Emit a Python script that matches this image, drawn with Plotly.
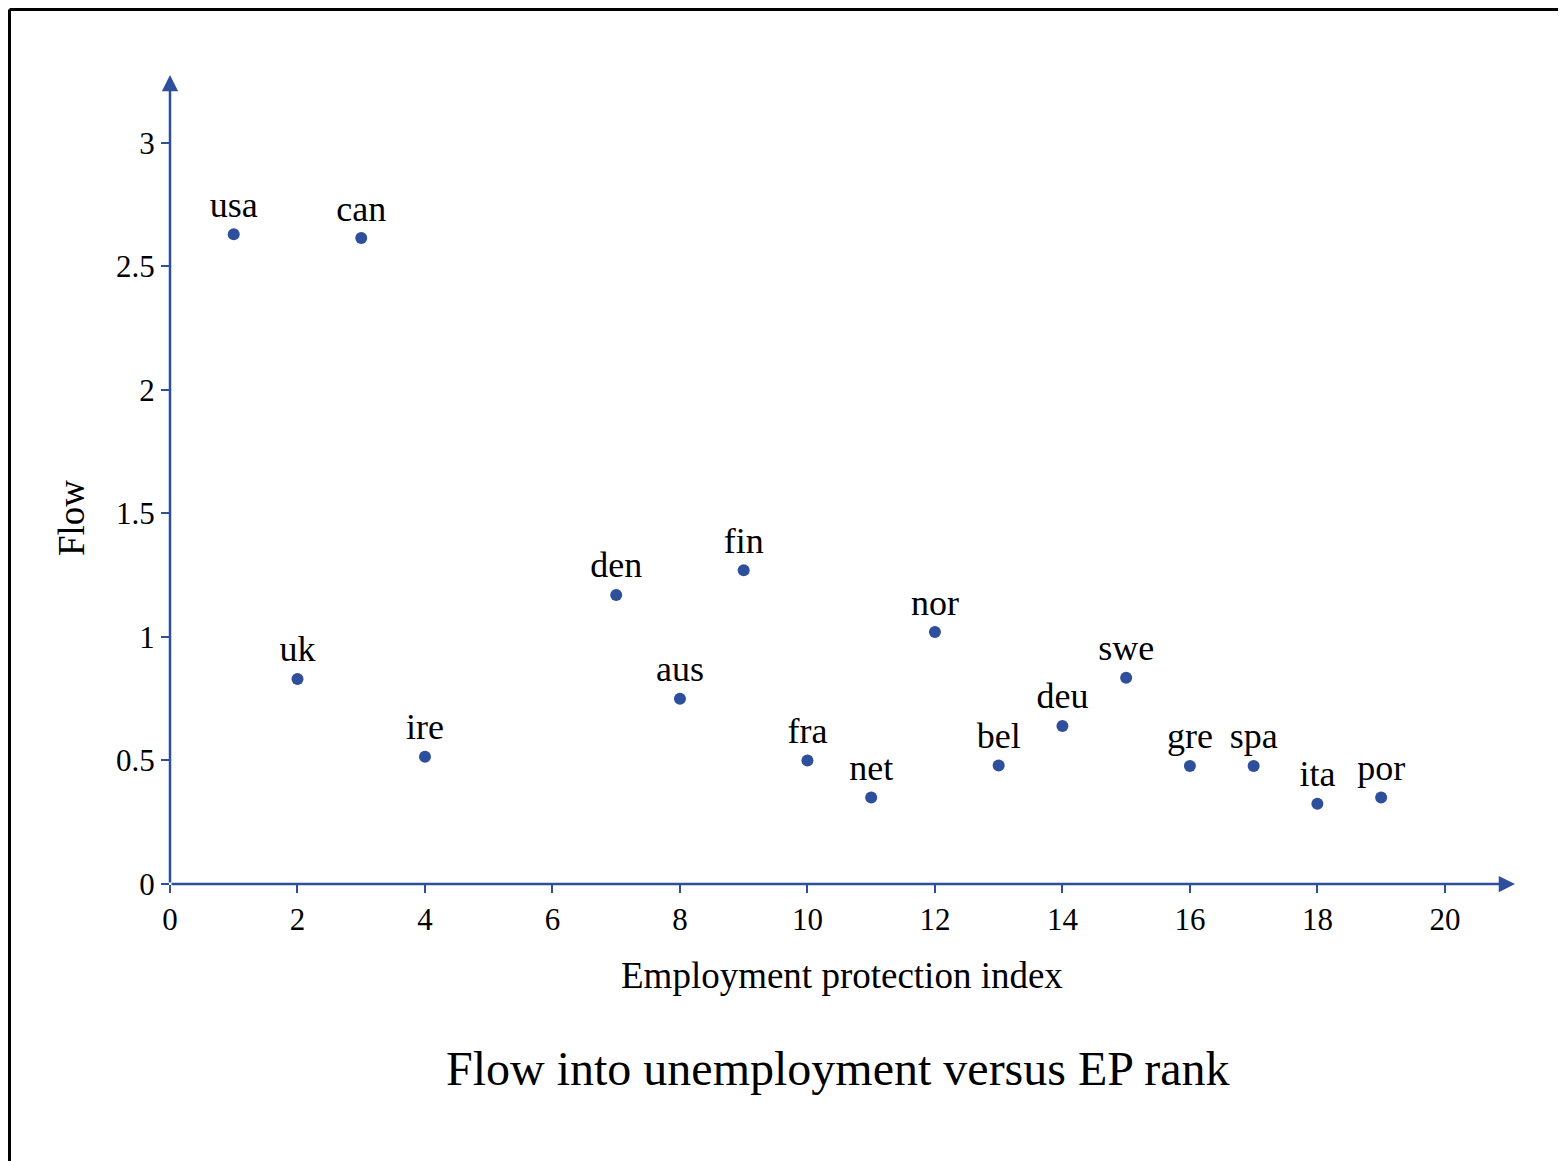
import plotly.graph_objects as go

countries = ["usa", "uk", "can", "ire", "den", "aus", "fin", "fra", "net", "nor",
             "bel", "deu", "swe", "gre", "spa", "ita", "por"]
ep_rank = [1, 2, 3, 4, 7, 8, 9, 10, 11, 12, 13, 14, 15, 16, 17, 18, 19]
flow = [2.63, 0.83, 2.615, 0.515, 1.17, 0.75, 1.27, 0.50, 0.35, 1.02,
        0.48, 0.64, 0.835, 0.478, 0.478, 0.325, 0.35]
x_ticks = [0, 2, 4, 6, 8, 10, 12, 14, 16, 18, 20]
y_ticks = [0, 0.5, 1, 1.5, 2, 2.5, 3]

AX = "#2E4F9B"
FONT = "Liberation Serif"

W, H = 1566, 1161
OFF = 8  # page body margin
l, t = 170 - OFF, 75 - OFF
r = W - (1515 - OFF)
b = H - (884 - OFF)
pw, ph = W - l - r, H - t - b


def px(xp):
    return (xp - OFF - l) / pw


def py(yp):
    return (H - b - (yp - OFF)) / ph


fig = go.Figure()
fig.add_trace(go.Scatter(
    x=ep_rank, y=flow, mode="markers+text", text=countries,
    textposition="top center",
    textfont=dict(family=FONT, size=36, color="black"),
    marker=dict(size=12, color=AX),
    cliponaxis=False, hoverinfo="skip", showlegend=False,
))

xmax, ymax = 21.1, 3.275
fig.update_xaxes(range=[0, xmax], tickvals=x_ticks, ticktext=[str(v) for v in x_ticks],
                 ticks="outside", ticklen=8, tickwidth=2, tickcolor=AX,
                 showgrid=False, zeroline=False, showline=False,
                 tickfont=dict(family=FONT, size=31, color="black"))
fig.update_yaxes(range=[0, ymax], tickvals=y_ticks, ticktext=[f"{v:g}" for v in y_ticks],
                 ticks="outside", ticklen=8, tickwidth=2, tickcolor=AX,
                 showgrid=False, zeroline=False, showline=False,
                 tickfont=dict(family=FONT, size=31, color="black"))

# axes with arrowheads
fig.add_annotation(x=xmax, y=0, ax=0, ay=0, xref="x", yref="y", axref="x", ayref="y",
                   showarrow=True, arrowhead=2, arrowsize=1.3, arrowwidth=2.5,
                   arrowcolor=AX, text="")
fig.add_annotation(x=0, y=ymax, ax=0, ay=0, xref="x", yref="y", axref="x", ayref="y",
                   showarrow=True, arrowhead=2, arrowsize=1.3, arrowwidth=2.5,
                   arrowcolor=AX, text="")

fig.add_annotation(text="Employment protection index", x=px(842), y=py(975),
                   xref="paper", yref="paper", xanchor="center", yanchor="middle",
                   showarrow=False, font=dict(family=FONT, size=37, color="black"))
fig.add_annotation(text="Flow", textangle=-90, x=px(72), y=py(518),
                   xref="paper", yref="paper", xanchor="center", yanchor="middle",
                   showarrow=False, font=dict(family=FONT, size=37, color="black"))
fig.add_annotation(text="Flow into unemployment versus EP rank", x=px(838), y=py(1068),
                   xref="paper", yref="paper", xanchor="center", yanchor="middle",
                   showarrow=False, font=dict(family=FONT, size=48, color="black"))

# frame around the figure (top and left edges)
fy = py(OFF + 1.5)
fx = px(OFF + 1.5)
fig.add_shape(type="line", xref="paper", yref="paper",
              x0=fx, x1=px(W + 20), y0=fy, y1=fy,
              line=dict(color="black", width=3))
fig.add_shape(type="line", xref="paper", yref="paper",
              x0=fx, x1=fx, y0=fy, y1=py(H + 20),
              line=dict(color="black", width=3))

fig.update_layout(
    width=W, height=H,
    margin=dict(l=l, r=r, t=t, b=b),
    plot_bgcolor="white", paper_bgcolor="white",
    font=dict(family=FONT),
)

fig.write_html("out.html")
